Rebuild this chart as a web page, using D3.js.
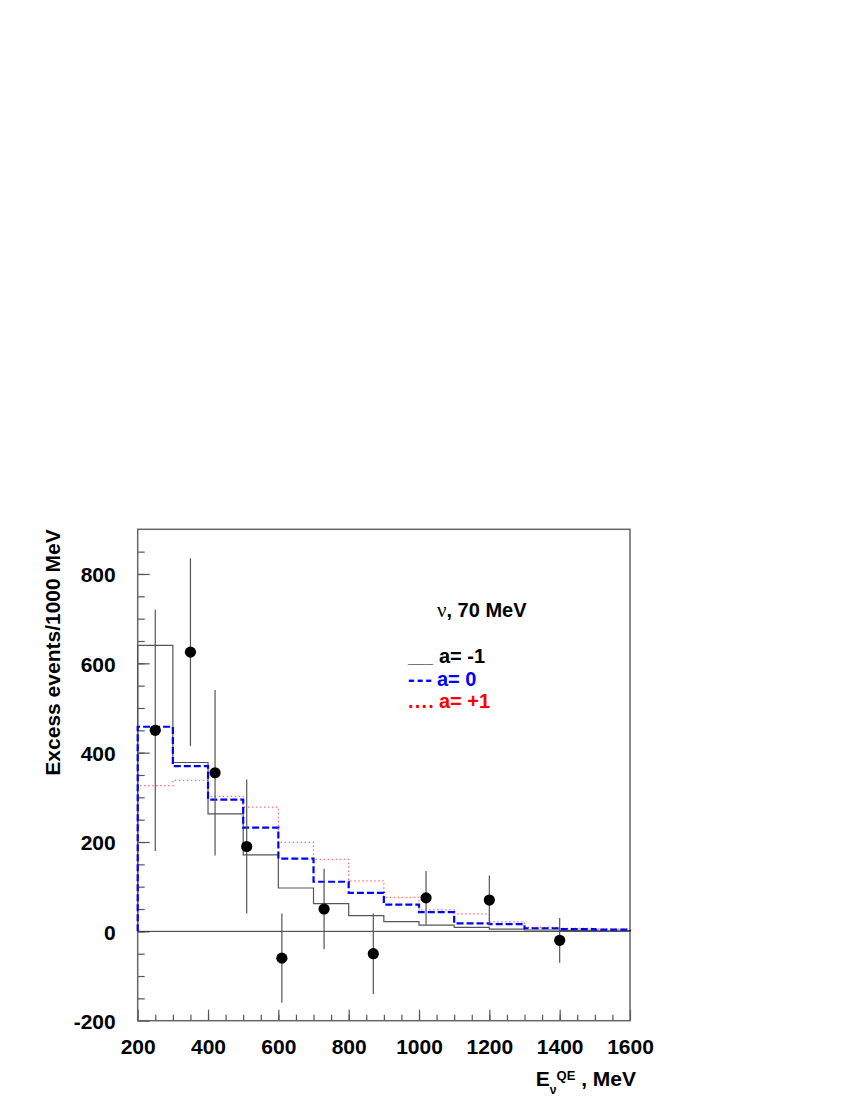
<!DOCTYPE html>
<html>
<head>
<meta charset="utf-8">
<script src="https://cdn.jsdelivr.net/npm/d3@7"></script>
<style>
  body { margin: 0; background: #fff; }
  svg { display: block; }
</style>
</head>
<body>
<div id="mainDiv"></div>
<script>
'use strict';

// bin edges of the predicted histograms (MeV)
var binEdges = [200, 300, 400, 500, 600, 700, 800, 900, 1000, 1100, 1200, 1300, 1400, 1500, 1600];

// predictions, events / 1000 MeV
var aMinus1 = [640, 378, 263, 171, 97, 62, 35, 22, 14, 9, 5, 3, 2, 1];
var aZero   = [458, 370, 295, 232, 163, 111, 86, 60, 43, 18, 16, 7, 5, 4];
var aPlus1  = [326, 338, 302, 278, 199, 161, 113, 76, 48, 39, 21, 9, 7, 5];

// measured excess with errors
var ptEnergy = [250, 350, 420, 510, 610, 730, 870, 1020, 1200, 1400];
var ptValue  = [450, 625, 355, 190, -60, 50, -50, 75, 70, -20];
var ptError  = [270, 210, 185, 150, 100, 90, 90, 60, 55, 50];

// ticks
var xMajor = [200, 400, 600, 800, 1000, 1200, 1400, 1600];
var yMajor = [-200, 0, 200, 400, 600, 800];

var chart = {};

chart.font = "'Liberation Sans', Arial, Helvetica, sans-serif";

chart.histPoints = function (vals)
{
    var pts = [[binEdges[0], 0]];
    for (var i = 0; i < vals.length; i++)
    {
        pts.push([binEdges[i], vals[i]]);
        pts.push([binEdges[i + 1], vals[i]]);
    }
    pts.push([binEdges[binEdges.length - 1], 0]);
    return pts;
}

chart.run = function ()
{
    var svg = d3.select("#mainDiv").append("svg")
        .attr("width", 850)
        .attr("height", 1100);

    var x = d3.scaleLinear().domain([200, 1600]).range([137.7, 630]);
    var y = d3.scaleLinear().domain([-200, 900]).range([1020.7, 529.3]);
    var plain = function (d) { return String(d); };

    // minor ticks
    svg.append("g")
        .attr("transform", "translate(0," + y(-200) + ")")
        .call(d3.axisBottom(x).tickValues(d3.range(250, 1600, 50)).tickSize(-6).tickFormat(""))
        .call(function (g) { g.select(".domain").remove(); });
    svg.append("g")
        .attr("transform", "translate(" + x(200) + ",0)")
        .call(d3.axisLeft(y).tickValues(d3.range(-150, 900, 50)).tickSize(-7).tickFormat(""))
        .call(function (g) { g.select(".domain").remove(); });

    // major ticks + labels
    var xa = svg.append("g")
        .attr("transform", "translate(0," + y(-200) + ")")
        .call(d3.axisBottom(x).tickValues(xMajor).tickSize(-11).tickFormat(plain));
    xa.select(".domain").remove();
    xa.selectAll("text")
        .attr("y", 33).attr("dy", 0)
        .attr("font-family", chart.font).attr("font-weight", "bold")
        .attr("font-size", "21px").attr("fill", "#000");

    var ya = svg.append("g")
        .attr("transform", "translate(" + x(200) + ",0)")
        .call(d3.axisLeft(y).tickValues(yMajor).tickSize(-12).tickFormat(plain));
    ya.select(".domain").remove();
    ya.selectAll("text")
        .attr("x", -22).attr("dy", "0.38em")
        .attr("font-family", chart.font).attr("font-weight", "bold")
        .attr("font-size", "21px").attr("fill", "#000");

    svg.selectAll(".tick line").attr("stroke", "#555").attr("stroke-width", 1.2);

    // frame
    svg.append("rect")
        .attr("x", x(200)).attr("y", y(900))
        .attr("width", x(1600) - x(200)).attr("height", y(-200) - y(900))
        .attr("fill", "none").attr("stroke", "#666").attr("stroke-width", 1.5);

    // zero line
    svg.append("line")
        .attr("x1", x(200)).attr("x2", x(1600))
        .attr("y1", y(0)).attr("y2", y(0))
        .attr("stroke", "#333").attr("stroke-width", 1);

    var line = d3.line().x(function (d) { return x(d[0]); }).y(function (d) { return y(d[1]); });

    svg.append("path").datum(chart.histPoints(aPlus1))
        .attr("d", line).attr("fill", "none")
        .attr("stroke", "#ff7070").attr("stroke-width", 1.2).attr("stroke-dasharray", "1.5,2.5");
    svg.append("path").datum(chart.histPoints(aMinus1))
        .attr("d", line).attr("fill", "none")
        .attr("stroke", "#555").attr("stroke-width", 1.2);
    svg.append("path").datum(chart.histPoints(aZero))
        .attr("d", line).attr("fill", "none")
        .attr("stroke", "#0000ff").attr("stroke-width", 2.2).attr("stroke-dasharray", "7,3");

    // data points
    var pts = ptEnergy.map(function (e, i) { return { e: e, v: ptValue[i], err: ptError[i] }; });

    svg.selectAll("line.err").data(pts).enter().append("line")
        .attr("class", "err")
        .attr("x1", function (d) { return x(d.e); })
        .attr("x2", function (d) { return x(d.e); })
        .attr("y1", function (d) { return y(d.v - d.err); })
        .attr("y2", function (d) { return y(d.v + d.err); })
        .attr("stroke", "#555").attr("stroke-width", 1.2);

    svg.selectAll("circle").data(pts).enter().append("circle")
        .attr("cx", function (d) { return x(d.e); })
        .attr("cy", function (d) { return y(d.v); })
        .attr("r", 5.6)
        .attr("fill", "#000");

    // axis titles
    svg.append("text")
        .attr("transform", "translate(59.5," + y(900) + ") rotate(-90)")
        .attr("text-anchor", "end")
        .attr("font-family", chart.font).attr("font-weight", "bold")
        .attr("font-size", "21px")
        .text("Excess events/1000 MeV");

    var xt = svg.append("text")
        .attr("x", 636).attr("y", 1086)
        .attr("text-anchor", "end")
        .attr("font-family", chart.font).attr("font-weight", "bold")
        .attr("font-size", "21px");
    xt.append("tspan").text("E");
    xt.append("tspan").attr("font-size", "12px").attr("dy", 8).text("\u03bd");
    xt.append("tspan").attr("font-size", "13px").attr("dy", -14).attr("dx", 0).text("QE");
    xt.append("tspan").attr("dy", 6).text(" , MeV");

    // legend
    var lt = svg.append("text")
        .attr("x", 437).attr("y", 617)
        .attr("font-family", chart.font).attr("font-weight", "bold")
        .attr("font-size", "20px");
    lt.append("tspan").attr("font-family", "'Liberation Serif', 'Times New Roman', serif")
        .attr("font-weight", "normal").attr("font-size", "21px").text("\u03bd");
    lt.append("tspan").text(", 70 MeV");

    var legendRows = [
        { sym: "___", label: "a= -1", color: "#000", y: 663, ls: 0, fs: 15, lx: 439 },
        { sym: "---", label: "a= 0", color: "#0000ff", y: 686, ls: 2, fs: 20, lx: 437 },
        { sym: "....", label: "a= +1", color: "#ff0000", y: 708, ls: 1.2, fs: 20, lx: 439 }
    ];
    var rows = svg.selectAll("text.leg").data(legendRows).enter().append("text")
        .attr("class", "leg")
        .attr("y", function (d) { return d.y; })
        .attr("font-family", chart.font).attr("font-weight", "bold")
        .attr("font-size", "20px")
        .attr("fill", function (d) { return d.color; });
    rows.append("tspan").attr("x", 408)
        .attr("font-size", function (d) { return d.fs + "px"; })
        .attr("letter-spacing", function (d) { return d.ls; })
        .text(function (d) { return d.sym; });
    rows.append("tspan").attr("x", function (d) { return d.lx; })
        .text(function (d) { return d.label; });
}

window.onload = chart.run;
</script>
</body>
</html>
